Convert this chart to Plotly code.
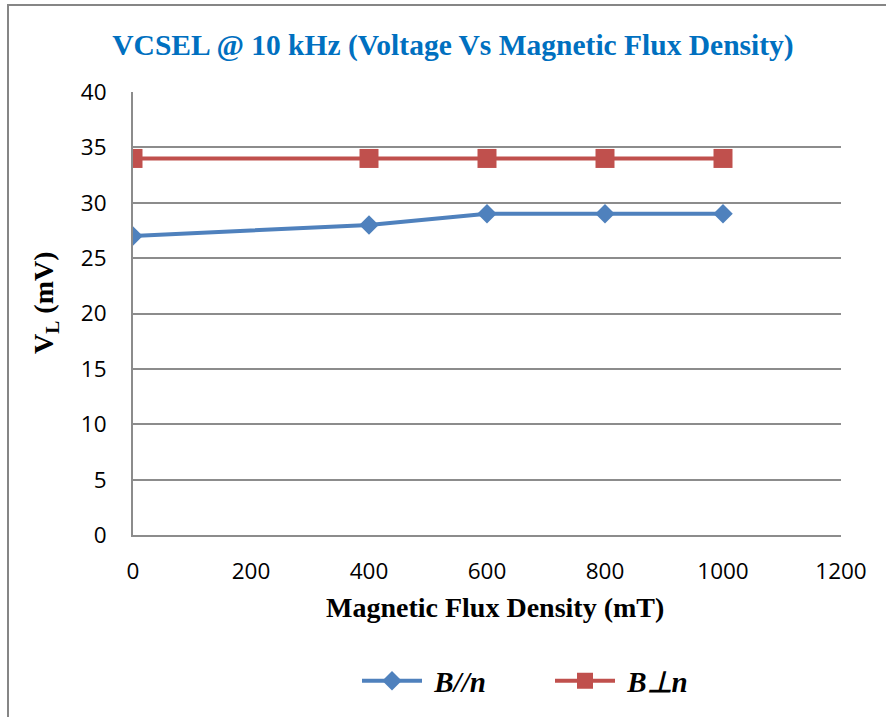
import plotly.graph_objects as go

# Magnetic flux density (mT) and measured laser voltage V_L (mV)
flux_mT = [0, 400, 600, 800, 1000]
v_parallel = [27, 28, 29, 29, 29]
v_perpendicular = [34, 34, 34, 34, 34]

x_ticks = [0, 200, 400, 600, 800, 1000, 1200]
y_ticks = [0, 5, 10, 15, 20, 25, 30, 35, 40]

BLUE = "#4F81BD"
RED = "#C0504D"
GRID = "#8C8C8C"
SERIF = "Liberation Serif, Times New Roman, serif"
SANS = "Open Sans, Liberation Sans, sans-serif"

fig = go.Figure()
fig.add_trace(go.Scatter(
    x=flux_mT, y=v_parallel, mode="lines+markers", name=" <b><i>B//n</i></b>",
    line=dict(color=BLUE, width=4),
    marker=dict(symbol="diamond", size=15, color=BLUE),
))
fig.add_trace(go.Scatter(
    x=flux_mT, y=v_perpendicular, mode="lines+markers", name=" <b><i>B\u22a5n</i></b>",
    line=dict(color=RED, width=4),
    marker=dict(symbol="square", size=19, color=RED),
))

L, R, T, B = 133, 45, 92, 182
W, H = 886, 717
pw, ph = W - L - R, H - T - B


def px_x(px):
    return (px - L) / pw


def px_y(py):
    return (H - B - py) / ph


fig.update_layout(
    width=W, height=H,
    margin=dict(l=L, r=R, t=T, b=B, autoexpand=False),
    paper_bgcolor="white", plot_bgcolor="white",
    title=dict(
        text="<b>VCSEL @ 10 kHz (Voltage Vs Magnetic Flux Density)</b>",
        font=dict(family=SERIF, size=29.5, color="#0070C0"),
        x=px_x(453), xref="paper", xanchor="center",
        y=1 - 45 / H, yanchor="middle",
    ),
    xaxis=dict(
        range=[0, 1200], tickvals=x_ticks, showgrid=False,
        showline=True, linecolor=GRID, linewidth=2, zeroline=False,
        tickfont=dict(family=SANS, size=22.5, color="black"),
        ticklabelstandoff=15,
    ),
    yaxis=dict(
        range=[0, 40], tickvals=y_ticks, showgrid=True, gridcolor=GRID, gridwidth=1.5,
        showline=True, linecolor=GRID, linewidth=2, zeroline=False,
        tickfont=dict(family=SANS, size=22.5, color="black"),
        ticklabelstandoff=20,
    ),
    legend=dict(
        orientation="h", x=px_x(357), xanchor="left",
        y=px_y(681), yanchor="middle",
        font=dict(family=SERIF, size=29, color="black"),
        itemwidth=60, entrywidth=118, bgcolor="rgba(0,0,0,0)",
    ),
    showlegend=True,
)

# Axis titles
fig.add_annotation(
    text="<b>Magnetic Flux Density (mT)</b>", xref="paper", yref="paper",
    x=px_x(495), y=px_y(607), xanchor="center", yanchor="middle", showarrow=False,
    font=dict(family=SERIF, size=28, color="black"),
)
fig.add_annotation(
    text="<b>V<sub>L</sub> (mV)</b>", xref="paper", yref="paper", textangle=-90,
    x=px_x(45), y=px_y(303), xanchor="center", yanchor="middle", showarrow=False,
    font=dict(family=SERIF, size=28, color="black"),
)

# Outer chart border (partly running off the page edge)
fig.add_shape(
    type="rect", xref="paper", yref="paper", layer="below",
    x0=px_x(8), x1=px_x(W + 4),
    y0=px_y(H + 4), y1=px_y(5),
    line=dict(color="#868686", width=2), fillcolor="rgba(0,0,0,0)",
)

fig.write_html("out.html")
